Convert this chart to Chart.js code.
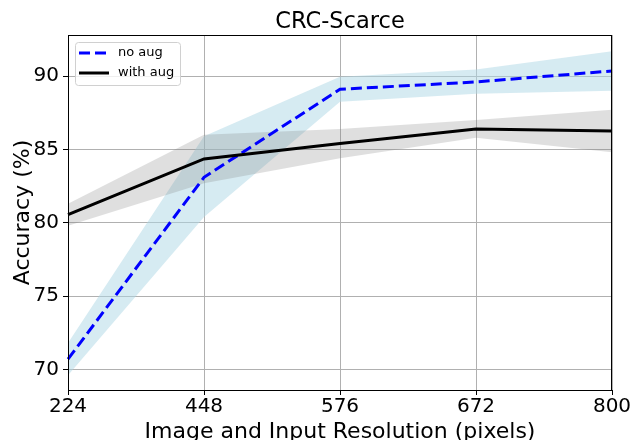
<!DOCTYPE html>
<html lang="en">
<head>
  <meta charset="UTF-8" />
  <title>CRC-Scarce</title>
  <script src="https://cdn.jsdelivr.net/npm/chart.js"></script>
  <style>
    html, body { margin: 0; padding: 0; background: #fff; }
    #wrap { width: 634px; height: 440px; }
  </style>
</head>
<body>
  <div id="wrap"><canvas id="chart" width="634" height="440"></canvas></div>

  <script>
    // data
    const resolutions = ["224", "448", "576", "672", "800"];
    const noAug      = [70.7, 83.1, 89.1, 89.6, 90.35];
    const noAugLow   = [69.6, 80.4, 88.25, 88.8, 89.0];
    const noAugHigh  = [71.8, 85.9, 89.95, 90.45, 91.7];
    const withAug    = [80.55, 84.35, 85.4, 86.4, 86.25];
    const withAugLow = [79.8, 82.7, 84.4, 85.8, 84.8];
    const withAugHigh= [81.3, 86.0, 86.4, 87.0, 87.7];
    const yTicks     = [70, 75, 80, 85, 90];
    const chartTitle = "CRC-Scarce";

    const FONT = "'DejaVu Sans', sans-serif";
    Chart.defaults.font.family = FONT;
    Chart.defaults.color = "#000";

    // title centred over the plot area, like matplotlib does
    const plotTitle = {
      id: "plotTitle",
      afterDraw(chart) {
        const ctx = chart.ctx;
        const a = chart.chartArea;
        ctx.save();
        ctx.font = "22.5px " + FONT;
        ctx.fillStyle = "#000";
        ctx.textAlign = "center";
        ctx.textBaseline = "alphabetic";
        ctx.fillText(chartTitle, (a.left + a.right) / 2, a.top - 7);
        ctx.restore();
      }
    };

    // matplotlib style legend box in the upper left corner
    const innerLegend = {
      id: "innerLegend",
      afterDraw(chart) {
        const ctx = chart.ctx;
        const a = chart.chartArea;
        const x = a.left + 7, y = a.top + 7, w = 105, h = 43;
        ctx.save();
        ctx.fillStyle = "rgba(255,255,255,0.8)";
        ctx.strokeStyle = "#d0d0d0";
        ctx.lineWidth = 1;
        ctx.beginPath();
        ctx.roundRect(x + 0.5, y + 0.5, w, h, 3);
        ctx.fill();
        ctx.stroke();

        const rows = [
          { label: "no aug", color: "#0000ff", dash: [11, 5] },
          { label: "with aug", color: "#000", dash: [] }
        ];
        ctx.font = "13px " + FONT;
        ctx.textBaseline = "middle";
        rows.forEach((r, i) => {
          const ry = y + 11 + i * 20;
          ctx.strokeStyle = r.color;
          ctx.lineWidth = 3;
          ctx.setLineDash(r.dash);
          ctx.beginPath();
          ctx.moveTo(x + 4, ry);
          ctx.lineTo(x + 34, ry);
          ctx.stroke();
          ctx.setLineDash([]);
          ctx.fillStyle = "#000";
          ctx.fillText(r.label, x + 43, ry);
        });
        ctx.restore();
      }
    };

    // full box frame around the plot
    const frame = {
      id: "frame",
      afterDatasetsDraw(chart) {
        const ctx = chart.ctx;
        const a = chart.chartArea;
        ctx.save();
        ctx.strokeStyle = "#000";
        ctx.lineWidth = 1;
        ctx.strokeRect(Math.round(a.left) + 0.5, Math.round(a.top) + 0.5,
                       Math.round(a.right - a.left) - 1, Math.round(a.bottom - a.top));
        ctx.restore();
      }
    };

    new Chart(document.getElementById("chart"), {
      type: "line",
      data: {
        labels: resolutions,
        datasets: [
          {
            label: "with aug",
            data: withAug,
            borderColor: "#000",
            borderWidth: 3,
            pointRadius: 0,
            fill: false
          },
          {
            label: "no aug",
            data: noAug,
            borderColor: "#0000ff",
            borderWidth: 3,
            borderDash: [11, 5],
            pointRadius: 0,
            fill: false
          },
          {
            label: "with aug high",
            data: withAugHigh,
            borderWidth: 0,
            pointRadius: 0,
            backgroundColor: "rgba(128,128,128,0.25)",
            fill: "+1"
          },
          {
            label: "with aug low",
            data: withAugLow,
            borderWidth: 0,
            pointRadius: 0,
            fill: false
          },
          {
            label: "no aug high",
            data: noAugHigh,
            borderWidth: 0,
            pointRadius: 0,
            backgroundColor: "rgba(173,216,230,0.5)",
            fill: "+1"
          },
          {
            label: "no aug low",
            data: noAugLow,
            borderWidth: 0,
            pointRadius: 0,
            fill: false
          }
        ]
      },
      options: {
        responsive: false,
        animation: false,
        layout: { padding: { left: 0, right: 22, top: 35, bottom: 0 } },
        plugins: {
          legend: { display: false },
          tooltip: { enabled: false },
          title: { display: false }
        },
        scales: {
          x: {
            type: "category",
            offset: false,
            grid: { color: "#b0b0b0", lineWidth: 1, tickLength: 5, tickColor: "#000" },
            border: { display: false },
            ticks: { font: { size: 20 }, padding: 0, maxRotation: 0 },
            title: {
              display: true,
              text: "Image and Input Resolution (pixels)",
              font: { size: 22 },
              padding: { top: 0, bottom: -5 }
            },
            afterFit(scale) { scale.height = 50; }
          },
          y: {
            min: 68.6,
            max: 92.8,
            grid: { color: "#b0b0b0", lineWidth: 1, tickLength: 5, tickColor: "#000" },
            border: { display: false },
            ticks: { font: { size: 20 }, padding: 4 },
            afterBuildTicks(scale) {
              scale.ticks = yTicks.map(v => ({ value: v }));
            },
            title: {
              display: true,
              text: "Accuracy (%)",
              font: { size: 22 },
              padding: { top: 10, bottom: 2 }
            },
            afterFit(scale) { scale.width = 68; }
          }
        }
      },
      plugins: [frame, innerLegend, plotTitle]
    });
  </script>
</body>
</html>
